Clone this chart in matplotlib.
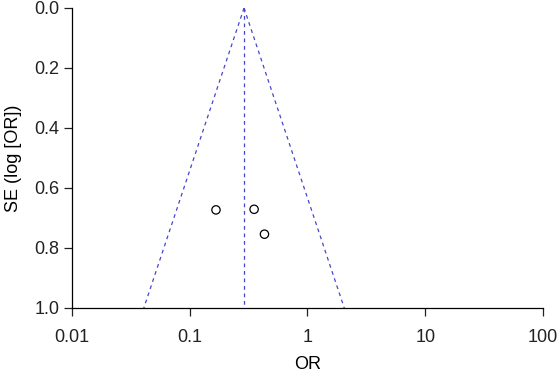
import numpy as np
import matplotlib
matplotlib.use("Agg")
import matplotlib.pyplot as plt

# study estimates
study_or = [0.167, 0.352, 0.431]
study_se = [0.673, 0.671, 0.754]
pooled_or = 0.289

x_ticks = [0.01, 0.1, 1, 10, 100]
x_labels = ["0.01", "0.1", "1", "10", "100"]
y_ticks = [0.0, 0.2, 0.4, 0.6, 0.8, 1.0]

plt.rcParams["font.family"] = ["Liberation Sans", "DejaVu Sans"]
plt.rcParams["font.size"] = 13

fig = plt.figure(figsize=(5.6, 3.73), dpi=100)
ax = fig.add_axes([0.1286, 0.1743, 0.8410, 0.8043])

# pseudo 95% confidence limits
se = np.array([0.0, 1.0])
lo = np.exp(np.log(pooled_or) - 1.96 * se)
hi = np.exp(np.log(pooled_or) + 1.96 * se)
blue = "#4646cc"
ax.plot(lo, se, ls=(0, (3, 3)), color=blue, lw=0.9)
ax.plot(hi, se, ls=(0, (3, 3)), color=blue, lw=0.9)
ax.plot([pooled_or, pooled_or], [0, 1], ls=(0, (3, 3)), color=blue, lw=0.9)

ax.scatter(study_or, study_se, s=36, facecolors="none", edgecolors="black", linewidths=0.9, zorder=3)

ax.set_xscale("log")
ax.set_xlim(0.01, 100)
ax.set_ylim(1.0, 0.0)
ax.set_xticks(x_ticks)
ax.set_xticklabels(x_labels)
ax.minorticks_off()
ax.set_yticks(y_ticks)
ax.set_yticklabels([f"{v:.1f}" for v in y_ticks])

ax.spines["top"].set_visible(False)
ax.spines["right"].set_visible(False)
for s in ["left", "bottom"]:
    ax.spines[s].set_linewidth(0.9)
ax.tick_params(direction="out", length=5.5, width=0.9, colors="#222222")
ax.tick_params(axis="x", pad=9.5)
ax.tick_params(axis="y", pad=3.5)

ax.set_xlabel("OR", labelpad=7)
ax.set_ylabel("SE (log [OR])", labelpad=9)

fig.savefig("out.png", dpi=100)
